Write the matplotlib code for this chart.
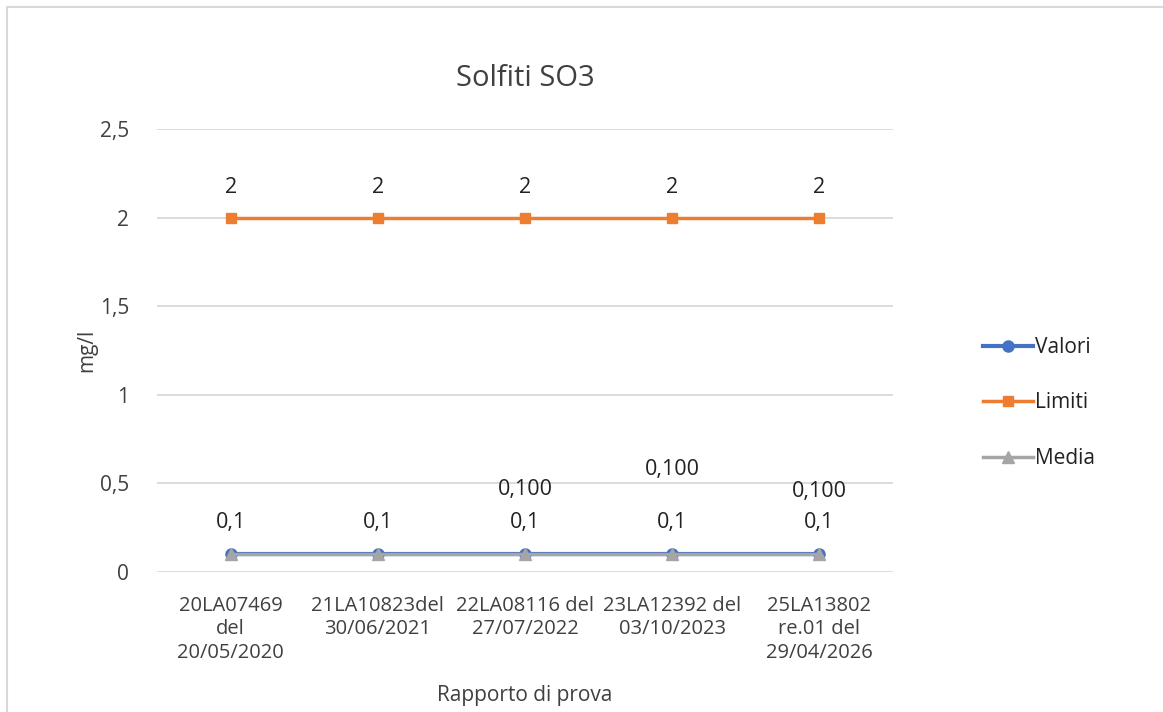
import matplotlib
matplotlib.use("Agg")
import matplotlib.pyplot as plt
from matplotlib.patches import Rectangle

categories = ["20LA07469\ndel\n20/05/2020", "21LA10823del\n30/06/2021",
              "22LA08116 del\n27/07/2022", "23LA12392 del\n03/10/2023",
              "25LA13802\nre.01 del\n29/04/2026"]
valori = [0.1, 0.1, 0.1, 0.1, 0.1]
limiti = [2, 2, 2, 2, 2]
media = [0.1, 0.1, 0.1, 0.1, 0.1]
valori_labels = ["0,1", "0,1", "0,1", "0,1", "0,1"]
limiti_labels = ["2", "2", "2", "2", "2"]
media_labels = [None, None, "0,100", "0,100", "0,100"]
media_label_offsets = [0, 0, 47, 61, 45]
yticks = [0, 0.5, 1, 1.5, 2, 2.5]
ytick_labels = ["0", "0,5", "1", "1,5", "2", "2,5"]

plt.rcParams['font.family'] = ['Open Sans', 'DejaVu Sans']
txt = '#404040'

W, H = 1163, 712
fig = plt.figure(figsize=(W / 100, H / 100), dpi=100)
ax = fig.add_axes([157 / W, 1 - 572 / H, (893 - 157) / W, (572 - 129) / H])

x = list(range(len(categories)))
ax.plot(x, media, color='#A5A5A5', lw=2.5, marker='^', ms=8, label='Media', zorder=3)
ax.plot(x, valori, color='#4472C4', lw=3, marker='o', ms=8, label='Valori', zorder=2)
ax.plot(x, limiti, color='#ED7D31', lw=2.5, marker='s', ms=7, label='Limiti', zorder=3)

lab_fs = 15.5
for i in x:
    ax.annotate(valori_labels[i], (i, valori[i]), xytext=(0, 23), textcoords='offset points',
                ha='center', va='center', fontsize=lab_fs, color='#222222')
    ax.annotate(limiti_labels[i], (i, limiti[i]), xytext=(0, 22), textcoords='offset points',
                ha='center', va='center', fontsize=lab_fs, color='#222222')
    if media_labels[i]:
        ax.annotate(media_labels[i], (i, media[i]), xytext=(0, media_label_offsets[i]),
                    textcoords='offset points', ha='center', va='center', fontsize=lab_fs, color='#222222')

ax.set_xlim(-0.5, len(categories) - 0.5)
ax.set_ylim(0, 2.5)
ax.set_yticks(yticks)
ax.set_yticklabels(ytick_labels, fontsize=15, color=txt)
ax.set_xticks(x)
ax.set_xticklabels(categories, fontsize=14.5, color=txt, linespacing=1.25)
ax.tick_params(axis='both', length=0)
ax.tick_params(axis='y', pad=20)
ax.tick_params(axis='x', pad=17)
ax.grid(axis='y', color='#D9D9D9', lw=1.3)
ax.set_axisbelow(True)
for s in ax.spines.values():
    s.set_visible(False)

ax.set_title("Solfiti SO3", fontsize=21, color=txt, pad=31)
ax.set_ylabel("mg/l", fontsize=15, color=txt, labelpad=2)
fig.text(525 / W, 1 - 695 / H, "Rapporto di prova", ha='center', va='center', fontsize=15, color=txt)

handles, labels = ax.get_legend_handles_labels()
order = [labels.index('Valori'), labels.index('Limiti'), labels.index('Media')]
leg = fig.legend([handles[i] for i in order], [labels[i] for i in order],
                 loc='center left', bbox_to_anchor=(964 / W, 1 - 403 / H), frameon=False,
                 fontsize=15, labelspacing=1.65, handlelength=2.4, handletextpad=0.1)
for t in leg.get_texts():
    t.set_color('#222222')

fig.patches.append(Rectangle((7 / W, -0.1), 1.2, 1 - 7 / H + 0.1, transform=fig.transFigure,
                             fill=False, edgecolor='#D9D9D9', lw=1.5))

fig.savefig("out.png", dpi=100)
